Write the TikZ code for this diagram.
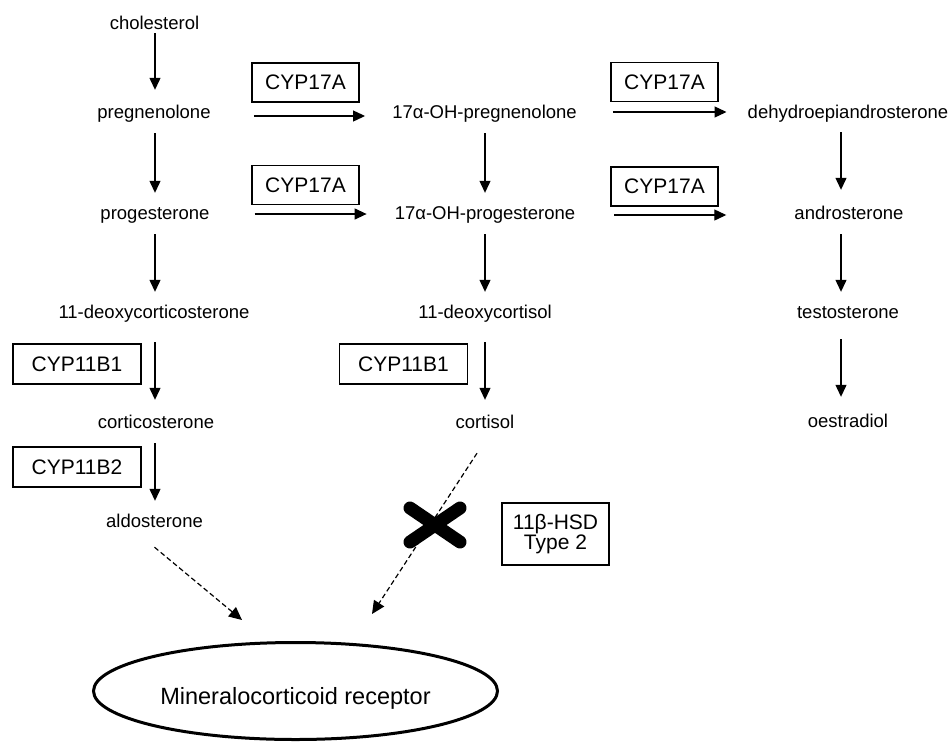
\documentclass[tikz,border=0pt]{standalone}
\usepackage{fontspec}
\setmainfont{Liberation Sans}
\usetikzlibrary{arrows.meta,shapes.geometric}
\begin{document}
\begin{tikzpicture}[x=1pt,y=-1pt,
 lbl/.style={anchor=base, inner sep=0pt, text height=14pt, text depth=4pt, font=\fontsize{18.5}{22}\selectfont},
 enz/.style={draw, line width=1.2pt, inner sep=0pt, minimum width=107pt, minimum height=39pt, font=\fontsize{21}{21}\selectfont},
 wide/.style={minimum width=128pt, minimum height=40pt},
 arr/.style={line width=1.2pt, shorten <=11pt, shorten >=12pt, -{Triangle[length=12pt,width=11pt]}},
 harr/.style={line width=1.2pt, -{Triangle[length=12pt,width=11pt]}},
 darr/.style={line width=1.2pt, dash pattern=on 5pt off 3pt, -{Triangle[length=13pt,width=12pt]}},
]
\useasboundingbox (0,0) rectangle (950,742);
% column axes
\coordinate (c1) at (155,0);
\coordinate (c2) at (485,0);
\coordinate (c3) at (841,0);
% compounds
\node[lbl] (chol) at (154.5,29) {cholesterol};
\node[lbl] (preg) at (154,118) {pregnenolone};
\node[lbl] (prog) at (155,219) {progesterone};
\node[lbl] (doc) at (154,318) {11-deoxycorticosterone};
\node[lbl] (cortico) at (156,428) {corticosterone};
\node[lbl] (aldo) at (154.5,527) {aldosterone};
\node[lbl] (ohpreg) at (484.5,118) {17α-OH-pregnenolone};
\node[lbl] (ohprog) at (485,219) {17α-OH-progesterone};
\node[lbl] (dcort) at (485,318) {11-deoxycortisol};
\node[lbl] (cort) at (485,428) {cortisol};
\node[lbl] (dhea) at (848,118) {dehydroepiandrosterone};
\node[lbl] (andro) at (849,219) {androsterone};
\node[lbl] (testo) at (848,318) {testosterone};
\node[lbl] (oestr) at (848,427) {oestradiol};
% enzymes
\node[enz] (e1) at (305.5,82.5) {CYP17A};
\node[enz] (e2) at (305.5,185) {CYP17A};
\node[enz] (e3) at (664.5,82) {CYP17A};
\node[enz] (e4) at (664.5,186.5) {CYP17A};
\node[enz, wide] (e5) at (77,364) {CYP11B1};
\node[enz, wide] (e6) at (77,467) {CYP11B2};
\node[enz, wide] (e7) at (403.5,364) {CYP11B1};
\node[enz, minimum height=62pt, align=center, font=\fontsize{21}{19.5}\selectfont] (e8) at (555.5,534) {11β-HSD\\Type 2};
% receptor
\node[draw, ellipse, line width=3pt, minimum width=404pt, minimum height=97pt, inner sep=0pt,
      text height=26pt, text depth=0pt, font=\fontsize{23.5}{28}\selectfont] (mr) at (295.5,691) {Mineralocorticoid receptor};
% vertical arrows
\draw[arr, shorten <=0pt, shorten >=14pt] (chol.south -| c1) -- (preg.north -| c1);
\draw[arr] (preg.south -| c1) -- (prog.north -| c1);
\draw[arr] (prog.south -| c1) -- (doc.north -| c1);
\draw[arr, shorten <=20pt, shorten >=14pt] (doc.south -| c1) -- (cortico.north -| c1);
\draw[arr] (cortico.south -| c1) -- (aldo.north -| c1);
\draw[arr] (ohpreg.south -| c2) -- (ohprog.north -| c2);
\draw[arr] (ohprog.south -| c2) -- (dcort.north -| c2);
\draw[arr, shorten <=20pt, shorten >=14pt] (dcort.south -| c2) -- (cort.north -| c2);
\draw[arr, shorten <=10pt, shorten >=15pt] (dhea.south -| c3) -- (andro.north -| c3);
\draw[arr] (andro.south -| c3) -- (testo.north -| c3);
\draw[arr, shorten <=17pt, shorten >=16pt] (testo.south -| c3) -- (oestr.north -| c3);
% horizontal arrows
\draw[harr] ([shift={(43,3)}]preg.east) -- ([shift={(-27,3)}]ohpreg.west);
\draw[harr] ([shift={(45,0)}]prog.east) -- ([shift={(-28,0)}]ohprog.west);
\draw[harr] ([shift={(36,-1)}]ohpreg.east) -- ([shift={(-21,-1)}]dhea.west);
\draw[harr] ([shift={(39,1)}]ohprog.east) -- ([shift={(-68,1)}]andro.west);
% dashed arrows to receptor
\coordinate (t1) at (242,620);
\coordinate (t2) at (372,614);
\draw[darr] ([shift={(0,16)}]aldo.south) -- (t1);
\draw[darr] ([shift={(-8,21)}]cort.south) -- (t2);
% block cross
\draw[line width=13pt, line cap=round] (410,508) -- (460,542) (460,508) -- (410,542);
\end{tikzpicture}
\end{document}
